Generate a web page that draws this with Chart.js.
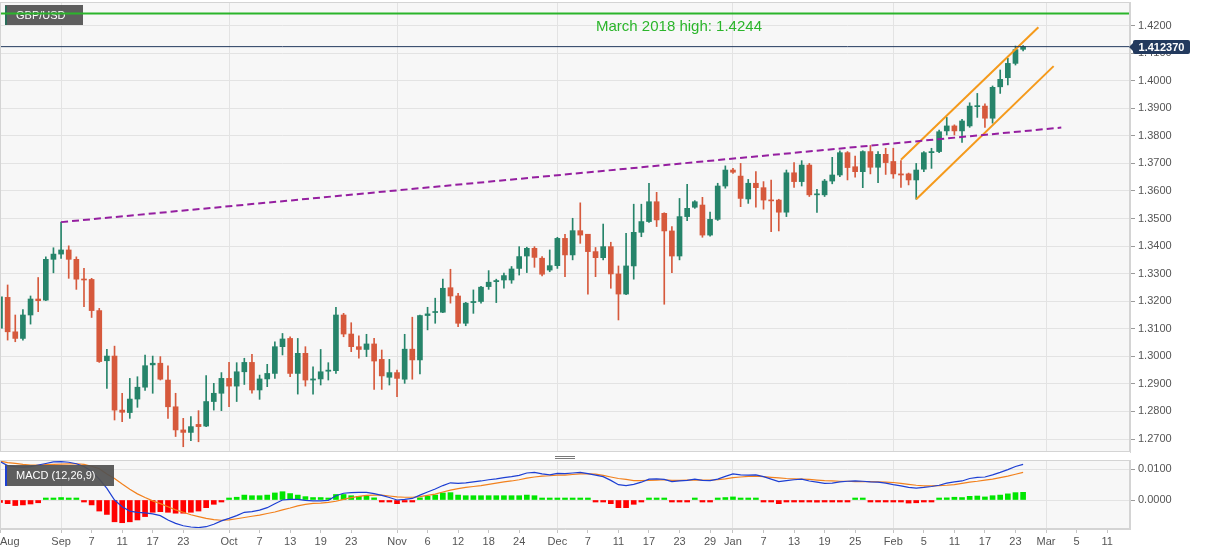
<!DOCTYPE html>
<html>
<head>
<meta charset="utf-8">
<title>GBP/USD daily</title>
<script src="https://cdn.jsdelivr.net/npm/chart.js@4.4.0/dist/chart.umd.min.js"></script>
<style>
  html, body { margin: 0; padding: 0; background: #fff; }
  #wrap { position: relative; width: 1207px; height: 555px; overflow: hidden; }
  #price { position: absolute; left: 0; top: 0; }
  #macd { position: absolute; left: 0; top: 455px; }
</style>
</head>
<body>
<div id="wrap">
  <canvas id="price" width="1207" height="455"></canvas>
  <canvas id="macd" width="1207" height="100"></canvas>
</div>
<script>
'use strict';

/* =========== Data ================= */
var firstDay = '2020-08-20';
var lastDay = '2021-03-16';

var opens = [
  1.3102,1.3214,1.3089,1.3065,1.3150,1.3208,1.3204,1.3352,1.3371,1.3386,
  1.3352,1.3280,1.3279,1.3166,1.2984,1.3001,1.2805,1.2796,1.2845,1.2888,
  1.2969,1.2975,1.2914,1.2817,1.2733,1.2724,1.2753,1.2747,1.2836,1.2866,
  1.2920,1.2892,1.2944,1.2978,1.2878,1.2918,1.2938,1.3035,1.3065,1.2938,
  1.3011,1.2914,1.2918,1.2946,1.2948,1.3150,1.3081,1.3035,1.3025,1.3045,
  1.2989,1.2924,1.2941,1.2917,1.3026,1.2987,1.3148,1.3159,1.3160,1.3249,
  1.3219,1.3120,1.3195,1.3199,1.3253,1.3271,1.3277,1.3277,1.3319,1.3364,
  1.3392,1.3356,1.3313,1.3329,1.3428,1.3368,1.3456,1.3443,1.3380,1.3358,
  1.3398,1.3299,1.3226,1.3328,1.3450,1.3489,1.3561,1.3519,1.3455,1.3364,
  1.3507,1.3541,1.3549,1.3440,1.3497,1.3618,1.3676,1.3654,1.3571,1.3628,
  1.3612,1.3567,1.3567,1.3523,1.3666,1.3634,1.3694,1.3586,1.3586,1.3636,
  1.3658,1.3739,1.3688,1.3670,1.3743,1.3686,1.3733,1.3707,1.3662,1.3662,
  1.3640,1.3679,1.3739,1.3743,1.3818,1.3836,1.3818,1.3836,1.3906,1.3908,
  1.3864,1.3978,1.4011,1.4063,1.4114
];
var highs = [
  1.3222,1.3259,1.3150,1.3170,1.3219,1.3286,1.3361,1.3394,1.3487,1.3401,
  1.3361,1.3319,1.3283,1.3174,1.3025,1.3037,1.2866,1.2920,1.2926,1.3005,
  1.3001,1.2999,1.2966,1.2866,1.2775,1.2781,1.2803,1.2930,1.2902,1.2941,
  1.2978,1.2977,1.2993,1.3007,1.2932,1.2971,1.3053,1.3083,1.3071,1.3065,
  1.3035,1.2962,1.3025,1.2977,1.3178,1.3156,1.3122,1.3074,1.3080,1.3065,
  1.3023,1.2989,1.2950,1.3080,1.3142,1.3150,1.3178,1.3211,1.3280,1.3316,
  1.3229,1.3196,1.3241,1.3254,1.3311,1.3280,1.3302,1.3326,1.3398,1.3396,
  1.3398,1.3362,1.3386,1.3432,1.3443,1.3501,1.3557,1.3443,1.3395,1.3480,
  1.3414,1.3328,1.3446,1.3552,1.3552,1.3628,1.3595,1.3521,1.3471,1.3573,
  1.3624,1.3565,1.3577,1.3523,1.3628,1.3691,1.3682,1.3700,1.3642,1.3670,
  1.3634,1.3640,1.3570,1.3676,1.3703,1.3710,1.3700,1.3606,1.3642,1.3722,
  1.3746,1.3743,1.3727,1.3746,1.3765,1.3743,1.3755,1.3755,1.3710,1.3665,
  1.3700,1.3743,1.3755,1.3821,1.3867,1.3840,1.3860,1.3920,1.3954,1.3916,
  1.3981,1.4039,1.4081,1.4126,1.4128
];
var lows = [
  1.3059,1.3059,1.3053,1.3059,1.3117,1.3162,1.3202,1.3303,1.3355,1.3283,
  1.3243,1.3180,1.3141,1.2978,1.2884,1.2769,1.2763,1.2775,1.2815,1.2876,
  1.2866,1.2914,1.2775,1.2709,1.2672,1.2694,1.2690,1.2745,1.2805,1.2803,
  1.2817,1.2836,1.2898,1.2866,1.2844,1.2890,1.2920,1.3005,1.2926,1.2863,
  1.2892,1.2863,1.2896,1.2914,1.2938,1.3071,1.3017,1.2993,1.2999,1.2880,
  1.2880,1.2896,1.2854,1.2902,1.2917,1.2936,1.3096,1.3120,1.3158,1.3193,
  1.3108,1.3111,1.3156,1.3193,1.3243,1.3195,1.3247,1.3265,1.3295,1.3304,
  1.3323,1.3292,1.3307,1.3319,1.3289,1.3350,1.3410,1.3226,1.3289,1.3350,
  1.3247,1.3132,1.3224,1.3280,1.3434,1.3486,1.3471,1.3189,1.3304,1.3350,
  1.3492,1.3537,1.3432,1.3436,1.3493,1.3610,1.3664,1.3543,1.3555,1.3541,
  1.3534,1.3452,1.3455,1.3507,1.3613,1.3618,1.3580,1.3522,1.3580,1.3626,
  1.3652,1.3640,1.3650,1.3612,1.3662,1.3630,1.3660,1.3646,1.3613,1.3622,
  1.3570,1.3670,1.3682,1.3739,1.3803,1.3803,1.3776,1.3831,1.3867,1.3831,
  1.3846,1.3954,1.3985,1.4057,1.4108
];
var closes = [
  1.3216,1.3089,1.3065,1.3150,1.3208,1.3202,1.3352,1.3371,1.3386,1.3352,
  1.3280,1.3277,1.3166,1.2981,1.3001,1.2805,1.2797,1.2845,1.2888,1.2966,
  1.2975,1.2917,1.2817,1.2733,1.2724,1.2745,1.2745,1.2836,1.2866,1.2920,
  1.2892,1.2944,1.2978,1.2878,1.2918,1.2938,1.3035,1.3063,1.2938,1.3011,
  1.2914,1.2918,1.2944,1.2950,1.3150,1.3081,1.3035,1.3025,1.3045,1.2983,
  1.2929,1.2941,1.2920,1.3026,1.2987,1.3148,1.3154,1.3162,1.3247,1.3219,
  1.3120,1.3193,1.3199,1.3251,1.3269,1.3275,1.3293,1.3317,1.3362,1.3392,
  1.3359,1.3298,1.3329,1.3428,1.3368,1.3456,1.3440,1.3380,1.3358,1.3398,
  1.3299,1.3226,1.3328,1.3450,1.3489,1.3561,1.3495,1.3455,1.3364,1.3507,
  1.3537,1.3561,1.3440,1.3497,1.3618,1.3676,1.3668,1.3573,1.3628,1.3612,
  1.3567,1.3564,1.3523,1.3666,1.3634,1.3694,1.3586,1.3589,1.3636,1.3658,
  1.3739,1.3685,1.3670,1.3743,1.3686,1.3733,1.3703,1.3662,1.3658,1.3640,
  1.3676,1.3739,1.3743,1.3815,1.3836,1.3818,1.3854,1.3908,1.3908,1.3864,
  1.3976,1.4005,1.4063,1.4113,1.4124
];

var macdLine = [
  .0125,.0112,.0109,.0107,.0109,.0114,.0119,.0124,.0125,.0123,
  .0118,.0109,.0094,.0068,.0038,.0000,-.0022,-.0036,-.0040,-.0042,
  -.0045,-.0051,-.0065,-.0076,-.0084,-.0088,-.0090,-.0087,-.0079,-.0068,
  -.0060,-.0051,-.0040,-.0038,-.0033,-.0025,-.0012,.0000,.0002,.0002,
  -.0001,-.0003,-.0003,-.0001,.0014,.0022,.0024,.0025,.0025,.0021,
  .0015,.0008,.0000,.0002,.0005,.0016,.0026,.0036,.0047,.0056,
  .0054,.0056,.0059,.0062,.0066,.0069,.0073,.0076,.0080,.0088,
  .0090,.0085,.0082,.0087,.0086,.0088,.0090,.0086,.0081,.0076,
  .0064,.0050,.0047,.0051,.0058,.0068,.0069,.0067,.0060,.0062,
  .0064,.0068,.0064,.0063,.0068,.0077,.0085,.0082,.0081,.0082,
  .0076,.0068,.0060,.0063,.0066,.0068,.0062,.0058,.0054,.0055,
  .0059,.0061,.0062,.0061,.0059,.0058,.0055,.0050,.0046,.0041,
  .0039,.0041,.0044,.0048,.0055,.0059,.0062,.0070,.0074,.0075,
  .0082,.0090,.0099,.0109,.0116
];
var signalLine = [
  .0127,.0122,.0119,.0116,.0114,.0114,.0115,.0116,.0117,.0118,
  .0118,.0116,.0110,.0102,.0085,.0070,.0052,.0035,.0020,.0008,
  -.0003,-.0012,-.0022,-.0032,-.0040,-.0048,-.0054,-.0060,-.0064,-.0066,
  -.0065,-.0061,-.0057,-.0053,-.0049,-.0044,-.0039,-.0032,-.0026,-.0019,
  -.0014,-.0011,-.0010,-.0008,-.0004,.0002,.0008,.0012,.0015,.0016,
  .0016,.0013,.0010,.0009,.0009,.0011,.0015,.0019,.0026,.0032,
  .0037,.0041,.0044,.0047,.0051,.0055,.0059,.0062,.0066,.0071,
  .0075,.0078,.0079,.0081,.0081,.0083,.0085,.0085,.0084,.0080,
  .0075,.0070,.0067,.0063,.0063,.0064,.0065,.0066,.0064,.0064,
  .0065,.0065,.0065,.0065,.0066,.0069,.0073,.0075,.0077,.0078,
  .0076,.0074,.0072,.0070,.0069,.0068,.0067,.0065,.0063,.0062,
  .0061,.0061,.0060,.0060,.0060,.0059,.0058,.0057,.0054,.0051,
  .0048,.0046,.0046,.0047,.0048,.0050,.0054,.0058,.0061,.0065,
  .0068,.0073,.0078,.0084,.0090
];
var histogram = [
  -.0008,-.0012,-.0018,-.0016,-.0013,-.0009,.0001,.0006,.0008,.0005,
  .0001,-.0002,-.0016,-.0036,-.0047,-.0071,-.0074,-.0071,-.0065,-.0054,
  -.0040,-.0038,-.0040,-.0043,-.0043,-.0040,-.0036,-.0025,-.0014,-.0001,
  .0004,.0009,.0016,.0014,.0014,.0016,.0023,.0027,.0021,.0016,
  .0011,.0008,.0008,.0005,.0018,.0018,.0014,.0012,.0012,.0007,
  -.0001,-.0005,-.0012,-.0003,-.0003,.0007,.0012,.0016,.0023,.0024,
  .0016,.0014,.0014,.0014,.0014,.0014,.0014,.0014,.0014,.0016,
  .0014,.0006,.0002,.0002,.0002,.0003,.0003,.0001,-.0002,-.0003,
  -.0012,-.0025,-.0025,-.0014,-.0002,.0002,.0002,.0001,-.0004,-.0002,
  -.0001,.0001,-.0002,-.0002,.0002,.0008,.0010,.0005,.0002,.0001,
  -.0002,-.0004,-.0012,-.0005,-.0005,-.0002,-.0006,-.0007,-.0006,-.0005,
  -.0001,-.0001,.0001,.0001,-.0001,-.0001,-.0002,-.0005,-.0006,-.0010,
  -.0009,-.0005,-.0003,.0001,.0007,.0009,.0008,.0012,.0013,.0010,
  .0014,.0016,.0020,.0024,.0025
];

var priceTicks = [1.27,1.28,1.29,1.30,1.31,1.32,1.33,1.34,1.35,1.36,1.37,1.38,1.39,1.40,1.41,1.42];
var macdTicks = [0, 0.01];

var tickDates = [
  '2020-08-20','2020-09-01','2020-09-07','2020-09-11','2020-09-17','2020-09-23',
  '2020-10-01','2020-10-07','2020-10-13','2020-10-19','2020-10-23',
  '2020-11-02','2020-11-06','2020-11-12','2020-11-18','2020-11-24',
  '2020-12-01','2020-12-07','2020-12-11','2020-12-17','2020-12-23','2020-12-29',
  '2021-01-01','2021-01-07','2021-01-13','2021-01-19','2021-01-25',
  '2021-02-01','2021-02-05','2021-02-11','2021-02-17','2021-02-23',
  '2021-03-01','2021-03-05','2021-03-11'
];
var tickNames = [
  'Aug','Sep','7','11','17','23',
  'Oct','7','13','19','23',
  'Nov','6','12','18','24',
  'Dec','7','11','17','23','29',
  'Jan','7','13','19','25',
  'Feb','5','11','17','23',
  'Mar','5','11'
];

var resistance = 1.4244;   // March 2018 high
var lastPrice = 1.412370;

var trendDates = ['2020-09-01', '2021-03-03'];
var trendValues = [1.3487, 1.3830];
var upperDates = ['2021-02-02', '2021-02-26'];
var upperValues = [1.3713, 1.4194];
var lowerDates = ['2021-02-04', '2021-03-02'];
var lowerValues = [1.3570, 1.4053];
/* ------------------------------------------------ */

// trading days (weekdays) on the category axis
var days = [];
for (var d = new Date(firstDay + 'T00:00:00Z'); d <= new Date(lastDay + 'T00:00:00Z'); d.setUTCDate(d.getUTCDate() + 1)) {
  var wd = d.getUTCDay();
  if (wd !== 0 && wd !== 6) days.push(d.toISOString().slice(0, 10));
}
var tickIdx = tickDates.map(function (t) { return days.indexOf(t); });
var monthIdx = tickIdx.filter(function (v, k) { return /^[A-Z]/.test(tickNames[k]); });

var FONT = '"Liberation Sans", Arial, sans-serif';
Chart.defaults.font.family = FONT;
Chart.defaults.font.size = 11;
Chart.defaults.color = '#555';

var up = '#26846a', down = '#d6593c';
var candleColors = closes.map(function (c, i) { return c >= opens[i] ? up : down; });

function pts(dates, values) {
  return dates.map(function (t, k) { return { x: t, y: values[k] }; });
}

/* =========== Shared plugins ================= */
var plotFrame = {
  id: 'plotFrame',
  beforeDraw: function (chart) {
    var a = chart.chartArea, ctx = chart.ctx;
    ctx.save();
    ctx.fillStyle = '#f7f7f7';
    ctx.fillRect(a.left, a.top, a.right - a.left, a.bottom - a.top);
    ctx.restore();
  },
  afterDraw: function (chart) {
    var a = chart.chartArea, ctx = chart.ctx;
    ctx.save();
    ctx.strokeStyle = '#d4d4d4';
    ctx.lineWidth = 1;
    ctx.strokeRect(a.left + 0.5, a.top + 0.5, a.right - a.left - 1, a.bottom - a.top - 1);
    ctx.restore();
  }
};

function labelBox(ctx, x, y, w, h, strip, text) {
  ctx.fillStyle = 'rgba(82,82,82,0.93)';
  ctx.fillRect(x, y, w, h);
  ctx.fillStyle = strip;
  ctx.fillRect(x, y + 1, 2, h - 1);
  ctx.fillStyle = '#fff';
  ctx.font = '11px ' + FONT;
  ctx.textAlign = 'left';
  ctx.textBaseline = 'middle';
  ctx.fillText(text, x + 11, y + h / 2 + 0.5);
}

/* =========== Price chart ================= */
var priceNotes = {
  id: 'priceNotes',
  beforeDatasetsDraw: function (chart) {
    var ctx = chart.ctx;
    ctx.save();
    labelBox(ctx, 5, 5, 78, 20, '#2a6e5a', 'GBP/USD');
    ctx.restore();
  },
  afterDraw: function (chart) {
    var ctx = chart.ctx, ys = chart.scales.y, a = chart.chartArea;
    ctx.save();
    ctx.fillStyle = '#2bb52b';
    ctx.font = '15px ' + FONT;
    ctx.textAlign = 'center';
    ctx.textBaseline = 'middle';
    ctx.fillText('March 2018 high: ' + resistance.toFixed(4), 679, ys.getPixelForValue(resistance) + 13);

    var py = Math.round(ys.getPixelForValue(lastPrice));
    var bx = a.right + 3;
    ctx.fillStyle = '#233a5e';
    ctx.beginPath();
    ctx.moveTo(a.right - 1, py);
    ctx.lineTo(bx + 1, py - 5);
    ctx.lineTo(bx + 1, py + 5);
    ctx.closePath();
    ctx.fill();
    ctx.beginPath();
    ctx.roundRect(bx, py - 7, 57, 14, 2);
    ctx.fill();
    ctx.fillStyle = '#fff';
    ctx.font = 'bold 11px ' + FONT;
    ctx.fillText(lastPrice.toFixed(6), bx + 28.5, py + 0.5);
    ctx.restore();
  }
};

new Chart(document.getElementById('price'), {
  data: {
    labels: days,
    datasets: [
      { type: 'line', data: pts([days[0], days[days.length - 1]], [resistance, resistance]),
        borderColor: '#2bb52b', borderWidth: 2, pointRadius: 0, order: 1 },
      { type: 'line', data: pts([days[0], days[days.length - 1]], [lastPrice, lastPrice]),
        borderColor: '#233a5e', borderWidth: 1, pointRadius: 0, order: 1 },
      { type: 'line', data: pts(trendDates, trendValues),
        borderColor: '#951fa0', borderWidth: 2, borderDash: [7, 4], pointRadius: 0, order: 1 },
      { type: 'line', data: pts(upperDates, upperValues),
        borderColor: '#f59a1b', borderWidth: 2, pointRadius: 0, order: 1 },
      { type: 'line', data: pts(lowerDates, lowerValues),
        borderColor: '#f59a1b', borderWidth: 2, pointRadius: 0, order: 1 },
      { type: 'bar', data: opens.map(function (o, i) { return [o, closes[i]]; }),
        backgroundColor: candleColors, barThickness: 5, minBarLength: 1, grouped: false, order: 2 },
      { type: 'bar', data: lows.map(function (l, i) { return [l, highs[i]]; }),
        backgroundColor: candleColors, barThickness: 1, grouped: false, order: 3 }
    ]
  },
  options: {
    responsive: false,
    animation: false,
    devicePixelRatio: 1,
    layout: { padding: { top: 2, bottom: 3, left: 0, right: 0 } },
    plugins: { legend: { display: false }, tooltip: { enabled: false } },
    scales: {
      x: {
        type: 'category', offset: false,
        grid: { offset: false, color: '#e3e3e3', drawTicks: false },
        border: { display: false },
        ticks: { display: false },
        afterBuildTicks: function (s) { s.ticks = monthIdx.map(function (v) { return { value: v }; }); },
        afterFit: function (s) { s.height = 0; s.paddingLeft = 0; s.paddingRight = 0; }
      },
      y: {
        position: 'right', min: 1.26529, max: 1.42857,
        grid: { color: '#e3e3e3', tickColor: '#9a9a9a', tickLength: 5 },
        border: { color: '#d4d4d4' },
        ticks: { padding: 3, callback: function (v) { return v.toFixed(4); } },
        afterBuildTicks: function (s) { s.ticks = priceTicks.map(function (v) { return { value: v }; }); },
        afterFit: function (s) { s.width = 77; s.paddingTop = 0; s.paddingBottom = 0; }
      }
    }
  },
  plugins: [plotFrame, priceNotes]
});

/* =========== MACD panel ================= */
var macdNotes = {
  id: 'macdNotes',
  afterDatasetsDraw: function (chart) {
    var ctx = chart.ctx;
    ctx.save();
    labelBox(ctx, 5, 10, 109, 21, '#1d3fd3', 'MACD (12,26,9)');
    ctx.restore();
  },
  afterDraw: function (chart) {
    var ctx = chart.ctx, xs = chart.scales.x, y = chart.chartArea.bottom + 13;
    ctx.save();
    // splitter handle
    ctx.strokeStyle = '#7a7a7a';
    ctx.lineWidth = 1;
    ctx.beginPath();
    ctx.moveTo(555, 1.5); ctx.lineTo(575, 1.5);
    ctx.moveTo(555, 3.5); ctx.lineTo(575, 3.5);
    ctx.stroke();
    // date labels
    ctx.font = '11px ' + FONT;
    ctx.fillStyle = '#555';
    ctx.textAlign = 'center';
    ctx.textBaseline = 'middle';
    tickIdx.forEach(function (idx, k) {
      var x = xs.getPixelForValue(idx);
      var w = ctx.measureText(tickNames[k]).width;
      ctx.fillText(tickNames[k], Math.max(x, w / 2), y);
    });
    ctx.restore();
  }
};

new Chart(document.getElementById('macd'), {
  data: {
    labels: days,
    datasets: [
      { type: 'line', data: signalLine, borderColor: '#f2811d', borderWidth: 1.2, pointRadius: 0, order: 1 },
      { type: 'line', data: macdLine, borderColor: '#1d3fd3', borderWidth: 1.2, pointRadius: 0, order: 0 },
      { type: 'bar', data: histogram,
        backgroundColor: histogram.map(function (v) { return v >= 0 ? '#00e600' : '#ff0000'; }),
        barThickness: 5, minBarLength: 2, order: 2 }
    ]
  },
  options: {
    responsive: false,
    animation: false,
    devicePixelRatio: 1,
    layout: { padding: { top: 5, bottom: 0, left: 0, right: 0 } },
    plugins: { legend: { display: false }, tooltip: { enabled: false } },
    scales: {
      x: {
        type: 'category', offset: false,
        grid: {
          offset: false,
          color: function (c) { return monthIdx.indexOf(c.tick && c.tick.value) >= 0 ? '#e3e3e3' : 'rgba(0,0,0,0)'; },
          tickColor: '#c4c4c4', tickLength: 4
        },
        border: { color: '#d4d4d4' },
        ticks: { display: false },
        afterBuildTicks: function (s) { s.ticks = tickIdx.map(function (v) { return { value: v }; }); },
        afterFit: function (s) { s.height = 26; s.paddingLeft = 0; s.paddingRight = 0; }
      },
      y: {
        position: 'right', min: -0.009446, max: 0.01303,
        grid: { color: '#e3e3e3', tickColor: '#9a9a9a', tickLength: 5 },
        border: { color: '#d4d4d4' },
        ticks: { padding: 3, callback: function (v) { return v.toFixed(4); } },
        afterBuildTicks: function (s) { s.ticks = macdTicks.map(function (v) { return { value: v }; }); },
        afterFit: function (s) { s.width = 77; s.paddingTop = 0; s.paddingBottom = 0; }
      }
    }
  },
  plugins: [plotFrame, macdNotes]
});
</script>
</body>
</html>
